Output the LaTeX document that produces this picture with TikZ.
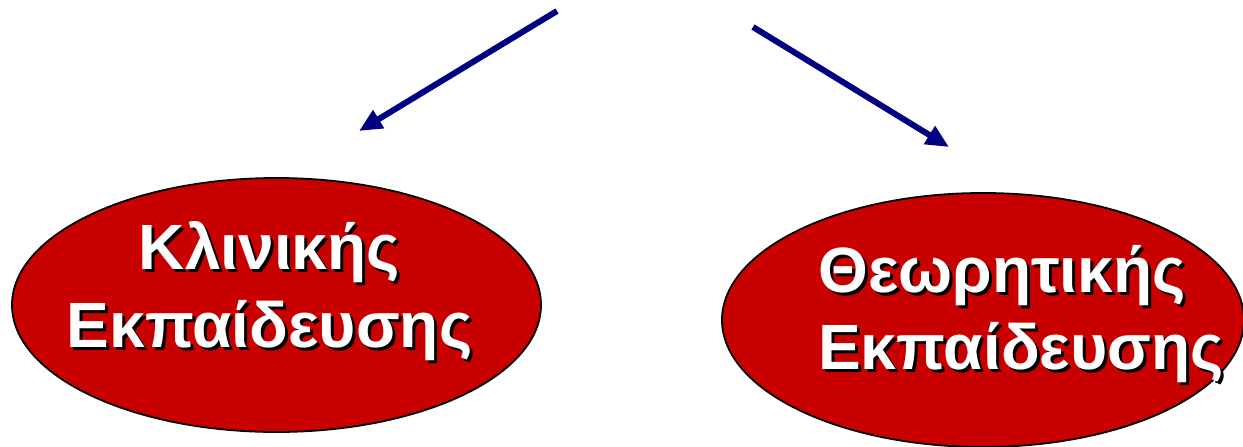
\documentclass[tikz,border=0pt]{standalone}
\usepackage{fontspec}
\setmainfont{Liberation Sans}
\usetikzlibrary{arrows.meta,shapes.geometric}
\definecolor{ellred}{RGB}{200,0,0}
\definecolor{arrblue}{RGB}{0,0,128}
\tikzset{
  ell/.style={ellipse, draw=black, line width=1.8pt, fill=ellred, inner sep=0},
  txt/.style={font=\bfseries\fontsize{64}{77}\selectfont, text=white, inner sep=0},
  shd/.style={txt, text=black},
  arr/.style={draw=arrblue, line width=6pt, -{Triangle[length=23pt,width=20pt]}}
}
\begin{document}
\begin{tikzpicture}[x=1pt,y=-1pt]
\useasboundingbox (0,0) rectangle (1243,447);
% ellipses
\node[ell, minimum width=529pt, minimum height=254pt] (L) at (276.5,305) {};
\node[ell, minimum width=522pt, minimum height=254pt] (R) at (983,320) {};
% left text
\node[shd, anchor=base] (l1s) at (272.5,272.5) {Κλινικής};
\node[txt, anchor=base] (l1) at (269.5,269.5) {Κλινικής};
\node[shd, anchor=base] (l2s) at (272.5,350.5) {Εκπαίδευσης};
\node[txt, anchor=base] (l2) at (269.5,347.5) {Εκπαίδευσης};
% right text
\node[shd, anchor=base west] (r1s) at (821,295.5) {Θεωρητικής};
\node[txt, anchor=base west] (r1) at (818,292.5) {Θεωρητικής};
\node[shd, anchor=base west] (r2s) at (821,372.5) {Εκπαίδευσης};
\node[txt, anchor=base west] (r2) at (818,369.5) {Εκπαίδευσης};
% arrows
\coordinate (a1) at (557,11);
\coordinate (a1e) at (359,131);
\coordinate (a2) at (753,27);
\coordinate (a2e) at (949,147);
\draw[arr] (a1) -- (a1e);
\draw[arr] (a2) -- (a2e);
\end{tikzpicture}
\end{document}
